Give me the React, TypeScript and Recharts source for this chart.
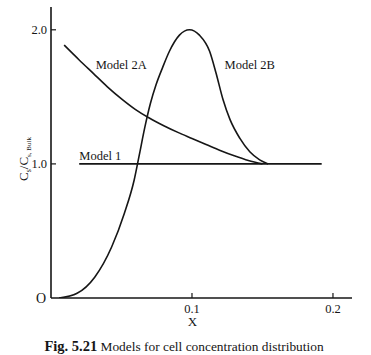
import { LineChart, Line, XAxis, YAxis, ReferenceDot } from 'recharts';

const INK = '#161616';
const FONT = '"Liberation Serif", "Times New Roman", serif';

// Model 1: flat line at bulk concentration
const model1X = [0.02, 0.192];
const model1Y = [1.0, 1.0];

// Model 2A: decays from the wall toward bulk value
const model2AX = [0.0093, 0.02, 0.03, 0.04, 0.05, 0.06, 0.07, 0.08, 0.09, 0.1, 0.11, 0.12, 0.13, 0.14, 0.15];
const model2AY = [1.886, 1.775, 1.675, 1.575, 1.485, 1.405, 1.34, 1.285, 1.235, 1.19, 1.145, 1.1, 1.06, 1.025, 1.0];

// Model 2B: peaked profile
const model2BX = [0.0057, 0.0185, 0.031, 0.043, 0.052, 0.059, 0.0626, 0.0665, 0.0705, 0.0745, 0.0792, 0.084, 0.0911, 0.0982, 0.1053, 0.1125, 0.117, 0.122, 0.127, 0.134, 0.141, 0.148, 0.154];
const model2BY = [0, 0.035, 0.155, 0.38, 0.63, 0.88, 1.065, 1.27, 1.45, 1.59, 1.72, 1.84, 1.96, 2.0, 1.96, 1.84, 1.68, 1.48, 1.33, 1.19, 1.09, 1.03, 1.0];

const xTicks = [0.1, 0.2];
const yTicks = [0, 1, 2];

const labelText = ['Model 2A', 'Model 2B', 'Model 1'];
const labelX = [0.0498, 0.141, 0.035];
const labelY = [1.74, 1.74, 1.065];

const toPoints = (xs: number[], ys: number[]) => xs.map((x, i) => ({ x, y: ys[i] }));

const XTick = ({ x, y, payload }: any) => (
  <g>
    <line x1={x} x2={x} y1={y} y2={y - 5} stroke={INK} strokeWidth={1.2} />
    <text x={x} y={y + 15} textAnchor="middle" fontFamily={FONT} fontSize={12.5} fill={INK}>
      {payload.value.toFixed(1)}
    </text>
  </g>
);

const YTick = ({ x, y, payload }: any) => {
  const v = payload.value;
  return (
    <g>
      {v !== 0 && <line x1={x} x2={x + 5} y1={y} y2={y} stroke={INK} strokeWidth={1.2} />}
      <text x={v === 0 ? x - 5 : x - 4} y={y + 4.5} textAnchor="end" fontFamily={FONT} fontSize={v === 0 ? 14 : 12.5} fill={INK}>
        {v === 0 ? 'O' : v.toFixed(1)}
      </text>
    </g>
  );
};

const YLabel = () => (
  <text transform="translate(28, 159) rotate(-90)" textAnchor="middle" fontFamily={FONT} fontSize={13} fill={INK}>
    <tspan>C</tspan>
    <tspan fontSize={8} dy={3}>s</tspan>
    <tspan dy={-3}>/C</tspan>
    <tspan fontSize={7} dy={3}>s, Bulk</tspan>
  </text>
);

const XLabel = (props: any) => {
  const vb = props.viewBox;
  return (
    <text x={vb.x + vb.width * 0.47} y={vb.y + 28} textAnchor="middle" fontFamily={FONT} fontSize={13} fill={INK}>
      X
    </text>
  );
};

const ModelLabel = (text: string) => (props: any) => {
  const vb = props.viewBox;
  return (
    <text x={vb.cx ?? vb.x} y={(vb.cy ?? vb.y) + 4.5} textAnchor="middle" fontFamily={FONT} fontSize={12.5} fill={INK}>
      {text}
    </text>
  );
};

export default function App() {
  return (
    <div style={{ position: 'absolute', left: 0, top: 0, width: 371, height: 355, background: '#fff' }}>
      <LineChart width={371} height={355} margin={{ top: 7, right: 19, bottom: 0, left: 0 }}>
        <XAxis
          type="number"
          dataKey="x"
          domain={[0, 0.2135]}
          ticks={xTicks}
          allowDataOverflow
          height={57}
          axisLine={{ stroke: INK, strokeWidth: 1.6 }}
          tickLine={false}
          tickSize={0}
          tickMargin={0}
          tick={<XTick />}
          label={{ content: <XLabel /> }}
        />
        <YAxis
          type="number"
          dataKey="y"
          domain={[0, 2.17]}
          ticks={yTicks}
          allowDataOverflow
          width={51}
          axisLine={{ stroke: INK, strokeWidth: 1.6 }}
          tickLine={false}
          tickSize={0}
          tickMargin={0}
          tick={<YTick />}
          label={{ content: <YLabel /> }}
        />
        <Line data={toPoints(model1X, model1Y)} dataKey="y" type="linear" stroke={INK} strokeWidth={1.6} dot={false} isAnimationActive={false} />
        <Line data={toPoints(model2AX, model2AY)} dataKey="y" type="monotone" stroke={INK} strokeWidth={1.6} dot={false} isAnimationActive={false} />
        <Line data={toPoints(model2BX, model2BY)} dataKey="y" type="monotone" stroke={INK} strokeWidth={1.6} dot={false} isAnimationActive={false} />
        {labelText.map((t, i) => (
          <ReferenceDot key={t} x={labelX[i]} y={labelY[i]} r={0} fill="none" stroke="none" label={{ content: ModelLabel(t) }} />
        ))}
      </LineChart>
      <div
        style={{
          position: 'absolute',
          left: 0,
          width: 368,
          top: 338,
          textAlign: 'center',
          fontFamily: FONT,
          fontSize: 13.4,
          color: INK,
          whiteSpace: 'nowrap',
          lineHeight: '16px',
        }}
      >
        <b style={{ fontSize: 14.5 }}>Fig. 5.21</b> Models for cell concentration distribution
      </div>
    </div>
  );
}
